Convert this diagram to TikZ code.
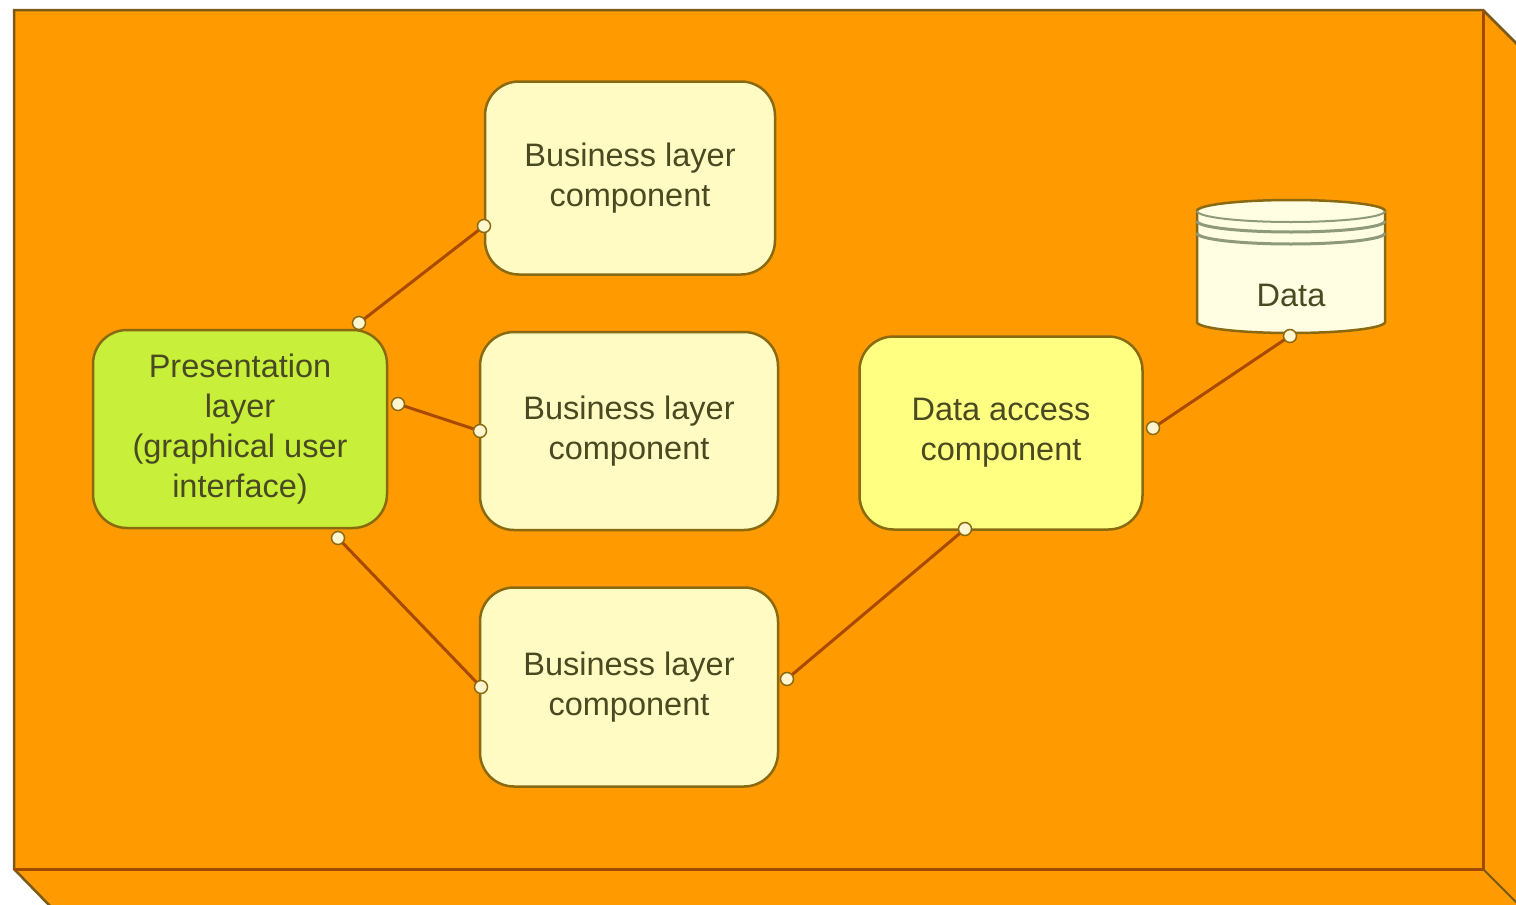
\documentclass[tikz,border=0pt]{standalone}
\usepackage{fontspec}
\setmainfont{Liberation Sans}

\definecolor{boxorange}{HTML}{FF9A00}
\definecolor{boxline}{HTML}{7A5A1A}
\definecolor{edgebrown}{HTML}{A04A00}
\definecolor{nodeline}{HTML}{8A6A10}
\definecolor{bizfill}{HTML}{FFFBC2}
\definecolor{presfill}{HTML}{C8F03A}
\definecolor{dacfill}{HTML}{FFFF82}
\definecolor{datafill}{HTML}{FFFDE2}
\definecolor{bandgray}{HTML}{8E9A7A}
\definecolor{textgray}{HTML}{4A4A22}
\definecolor{linkbrown}{HTML}{A84A00}
\definecolor{portfill}{HTML}{FFF6D0}

\begin{document}
\begin{tikzpicture}[x=1pt,y=-1pt,
    comp/.style={draw=nodeline,line width=2.5pt,rounded corners=34pt,align=center,
      text=textgray,font=\fontsize{32.5}{40}\selectfont,inner sep=0pt},
    link/.style={draw=linkbrown,line width=3pt},
    port/.style={draw=nodeline,fill=portfill,line width=1.5pt}]
      \useasboundingbox (0,0) rectangle (1516,905);

      % the box
      \draw[fill=boxorange,draw=boxline,line width=2.5pt]
        (14,10) -- (1483,10) -- (1520,47) -- (1520,907) -- (51,907) -- (14,869) -- cycle;
      \draw[edgebrown,line width=3pt] (14,869) -- (1483,869) -- (1483,10);
      \draw[boxline,line width=2pt] (1483,869) -- (1520,906);

      % components
      \draw (630,178) node[comp,fill=bizfill,minimum width=290pt,minimum height=193pt] (biztop) {Business layer\\component};
      \draw (629,431) node[comp,fill=bizfill,minimum width=298pt,minimum height=198pt] (bizmid) {Business layer\\component};
      \draw (629,687) node[comp,fill=bizfill,minimum width=298pt,minimum height=199pt] (bizbot) {Business layer\\component};
      \draw (240,429) node[comp,fill=presfill,minimum width=294pt,minimum height=198pt] (pres) {Presentation\\layer\\(graphical user\\interface)};
      \draw (1001,433) node[comp,fill=dacfill,minimum width=283pt,minimum height=193pt] (dac) {Data access\\component};

      % data store
      \draw[fill=datafill,draw=nodeline,line width=2.5pt]
        (1197,211) -- (1197,322) arc[start angle=180,end angle=0,x radius=94,y radius=11]
        -- (1385,211) arc[start angle=0,end angle=-180,x radius=94,y radius=11] -- cycle;
      \draw[bandgray,line width=2pt] (1197,211) arc[start angle=180,end angle=0,x radius=94,y radius=11];
      \draw[bandgray,line width=3pt] (1197,221) arc[start angle=180,end angle=0,x radius=94,y radius=11];
      \draw[bandgray,line width=3pt] (1197,233) arc[start angle=180,end angle=0,x radius=94,y radius=11];
      \draw (1291,295) node[text=textgray,font=\fontsize{32.5}{40}\selectfont] (data) {Data};
      \coordinate (datab) at (1290,336);

      % ports
      \coordinate (prest) at (359,323);
      \coordinate (presr) at (398,404);
      \coordinate (presb) at (338,538);
      \coordinate (biztopl) at (484,226);
      \coordinate (bizmidl) at (480,431);
      \coordinate (bizbotl) at (481,687);
      \coordinate (bizbotr) at (787,679);
      \coordinate (dacb) at (965,529);
      \coordinate (dacr) at (1153,428);

      \draw[link] (prest) -- (biztopl);
      \draw[link] (presr) -- (bizmidl);
      \draw[link] (presb) -- (bizbotl);
      \draw[link] (dacb) -- (bizbotr);
      \draw[link] (dacr) -- (datab);

      \foreach \p in {prest,presr,presb,biztopl,bizmidl,bizbotl,bizbotr,dacb,dacr,datab}
        \draw[port] (\p) circle[radius=6.5];
    \end{tikzpicture}
\end{document}
